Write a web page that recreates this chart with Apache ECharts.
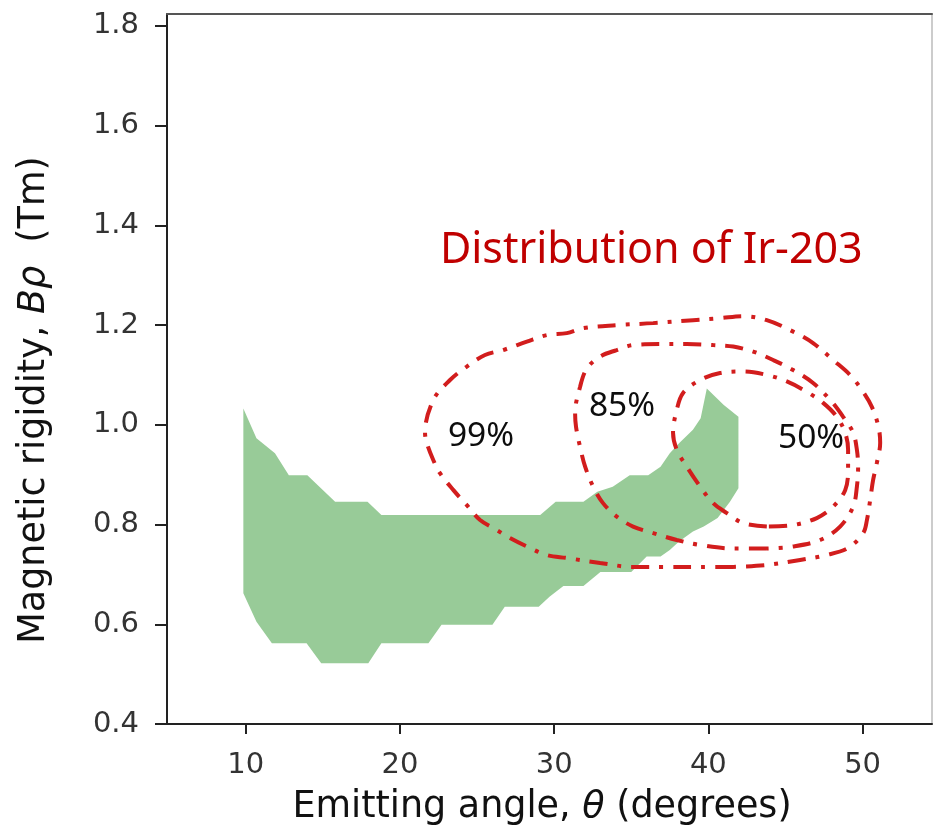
<!DOCTYPE html>
<html>
<head>
<meta charset="utf-8">
<script src="https://cdn.jsdelivr.net/npm/echarts@6/dist/echarts.min.js"></script>
<style>
  html, body { margin: 0; padding: 0; background: #ffffff; }
  #chart { width: 933px; height: 830px; }
</style>
</head>
<body>
<div id="chart"></div>
<script>
// Axis ticks
const xTicks = [10, 20, 30, 40, 50];
const yTicks = [0.4, 0.6, 0.8, 1.0, 1.2, 1.4, 1.6, 1.8];

// Acceptance region of the spectrometer (emitting angle in degrees, Bρ in Tm)
const acceptanceRegion = [
  [9.85, 1.033], [10.7, 0.973], [11.9, 0.943], [12.8, 0.899], [14.0, 0.899],
  [15.8, 0.846], [17.9, 0.846], [18.8, 0.819], [29.1, 0.819], [30.1, 0.846],
  [31.9, 0.846], [32.8, 0.866], [33.8, 0.876], [34.9, 0.899], [36.1, 0.899],
  [36.9, 0.916], [37.5, 0.943], [38.1, 0.963], [39.0, 0.990], [39.5, 1.013],
  [39.9, 1.073], [41.0, 1.040], [41.95, 1.016], [41.95, 0.873], [41.4, 0.846],
  [40.6, 0.813], [39.7, 0.796], [39.0, 0.786], [38.1, 0.766], [37.5, 0.749],
  [36.9, 0.736], [36.0, 0.736], [35.0, 0.705], [33.0, 0.705], [31.9, 0.677],
  [30.6, 0.677], [29.7, 0.655], [29.0, 0.635], [26.8, 0.635], [26.0, 0.599],
  [22.7, 0.599], [21.85, 0.562], [18.8, 0.562], [17.95, 0.522], [14.9, 0.522],
  [13.95, 0.562], [11.7, 0.562], [10.7, 0.605], [9.85, 0.662]
];

// Ir-203 distribution contours
const contour99 = [
  [21.63, 0.984], [22.17, 1.050], [23.25, 1.090], [24.34, 1.117], [25.52, 1.140],
  [26.69, 1.150], [28.23, 1.167], [29.52, 1.180], [30.82, 1.184], [31.88, 1.194],
  [34.06, 1.200], [36.42, 1.204], [39.01, 1.210], [40.76, 1.214], [42.25, 1.218],
  [43.79, 1.210], [45.50, 1.187], [46.79, 1.164], [48.09, 1.130], [49.19, 1.100],
  [49.95, 1.070], [50.60, 1.036], [51.03, 0.996], [51.14, 0.964], [50.92, 0.923],
  [50.68, 0.889], [50.49, 0.849], [50.28, 0.809], [50.04, 0.783], [49.06, 0.753],
  [47.68, 0.739], [45.95, 0.729], [43.79, 0.719], [41.61, 0.715], [39.47, 0.715],
  [37.31, 0.715], [35.12, 0.715], [32.98, 0.723], [30.82, 0.733], [29.52, 0.739],
  [28.23, 0.756], [27.14, 0.773], [26.28, 0.789], [25.20, 0.809], [24.34, 0.839],
  [23.47, 0.869], [22.60, 0.903], [22.17, 0.929], [21.74, 0.964]
];
const contour85 = [
  [31.36, 1.024], [31.68, 1.076], [32.12, 1.113], [32.98, 1.137], [34.06, 1.150],
  [35.12, 1.160], [36.87, 1.162], [38.60, 1.162], [40.31, 1.160], [41.61, 1.157],
  [42.90, 1.147], [44.20, 1.130], [45.50, 1.110], [46.79, 1.084], [47.90, 1.050],
  [48.74, 1.016], [49.39, 0.984], [49.63, 0.950], [49.71, 0.916], [49.63, 0.876],
  [49.39, 0.836], [48.54, 0.796], [47.25, 0.769], [45.50, 0.756], [43.79, 0.752],
  [41.61, 0.752], [39.47, 0.759], [37.95, 0.769], [36.42, 0.783], [35.12, 0.796],
  [34.06, 0.816], [33.17, 0.843], [32.53, 0.876], [32.01, 0.916], [31.68, 0.956],
  [31.42, 0.996]
];
const contour50 = [
  [37.71, 0.984], [37.95, 1.030], [38.36, 1.064], [39.47, 1.090], [40.76, 1.104],
  [42.25, 1.107], [43.79, 1.100], [45.09, 1.087], [46.39, 1.066], [47.44, 1.044],
  [48.33, 1.016], [48.87, 0.984], [49.06, 0.950], [49.06, 0.909], [48.87, 0.869],
  [48.09, 0.836], [47.03, 0.813], [45.50, 0.799], [43.79, 0.796], [42.25, 0.803],
  [41.20, 0.823], [40.31, 0.843], [39.47, 0.876], [38.60, 0.916], [37.95, 0.950]
];

// Contour level labels and annotation
const levelNames = ['99%', '85%', '50%'];
const levelLabelPos = [[25.26, 0.976], [34.4, 1.036], [46.66, 0.972]];
const annotationText = 'Distribution of Ir-203';
const annotationPos = [36.3, 1.349];

// Close a loop, starting it on its lowest (flattest) point so the smoothed
// path has no visible seam.
function closeLoop(pts) {
  let k = 0;
  pts.forEach((p, i) => { if (p[1] < pts[k][1]) k = i; });
  const ring = pts.slice(k).concat(pts.slice(0, k));
  return ring.concat([ring[0]]);
}
const contourColor = '#d21d1d';

function contourSeries(name, pts) {
  return {
    name: name,
    type: 'line',
    data: closeLoop(pts),
    showSymbol: false,
    symbol: 'none',
    smooth: 0.35,
    silent: true,
    z: 3,
    lineStyle: { color: contourColor, width: 4, type: [18, 10, 4, 10], cap: 'butt' }
  };
}

// Text-only scatter layer: invisible points carrying a centred label
function textSeries(name, items, labelStyle) {
  return {
    name: name,
    type: 'scatter',
    symbolSize: 0,
    silent: true,
    z: 5,
    itemStyle: { opacity: 1 },
    data: items,
    label: Object.assign({
      show: true, position: [0, 0], align: 'center', verticalAlign: 'middle',
      formatter: '{b}'
    }, labelStyle)
  };
}

const chart = echarts.init(document.getElementById('chart'), null, { renderer: 'canvas' });

const xMin = 4.9, xMax = 54.5, yMin = 0.4, yMax = 1.824;
const tickFont = { fontFamily: 'DejaVu Sans', fontSize: 29, color: '#333333' };
const titleFont = { fontFamily: 'DejaVu Sans', fontSize: 36.5, fill: '#111111' };

const option = {
  animation: false,
  backgroundColor: '#ffffff',
  grid: { left: 167, right: 1, top: 14, bottom: 106, show: false },
  xAxis: [
    {
      type: 'value', min: xMin, max: xMax, position: 'bottom',
      axisLine: { show: true, onZero: false, lineStyle: { color: '#222', width: 2 } },
      axisTick: { show: true, customValues: xTicks, length: 10, lineStyle: { color: '#222', width: 2 } },
      axisLabel: Object.assign({ customValues: xTicks, margin: 27 }, tickFont),
      splitLine: { show: false }
    },
    {
      type: 'value', min: xMin, max: xMax, position: 'top',
      axisLine: { show: true, onZero: false, lineStyle: { color: '#555', width: 2 } },
      axisTick: { show: false }, axisLabel: { show: false }, splitLine: { show: false }
    }
  ],
  yAxis: [
    {
      type: 'value', min: yMin, max: yMax, position: 'left',
      axisLine: { show: true, onZero: false, lineStyle: { color: '#222', width: 2 } },
      axisTick: { show: true, customValues: yTicks, length: 12, lineStyle: { color: '#222', width: 2 } },
      axisLabel: Object.assign({ customValues: yTicks, margin: 28, formatter: v => v.toFixed(1) }, tickFont),
      splitLine: { show: false }
    },
    {
      type: 'value', min: yMin, max: yMax, position: 'right',
      axisLine: { show: true, onZero: false, lineStyle: { color: '#bbbbbb', width: 1.5 } },
      axisTick: { show: false }, axisLabel: { show: false }, splitLine: { show: false }
    }
  ],
  graphic: [
    {
      type: 'text', x: 542, y: 808,
      style: Object.assign({
        text: 'Emitting angle, {i|θ} (degrees)', align: 'center', verticalAlign: 'middle',
        rich: { i: Object.assign({ fontStyle: 'italic' }, titleFont) }
      }, titleFont)
    },
    {
      type: 'text', x: 35, y: 400, rotation: Math.PI / 2,
      style: Object.assign({
        text: 'Magnetic rigidity, {i|Bρ}  (Tm)', align: 'center', verticalAlign: 'middle',
        rich: { i: Object.assign({ fontStyle: 'italic' }, titleFont) }
      }, titleFont)
    }
  ],
  series: [
    {
      name: 'Acceptance',
      type: 'custom',
      coordinateSystem: 'cartesian2d',
      data: acceptanceRegion,
      encode: { x: 0, y: 1 },
      silent: true,
      z: 1,
      renderItem: function (params, api) {
        if (params.dataIndex !== 0) return null;
        const pts = acceptanceRegion.map(p => api.coord(p));
        return { type: 'polygon', shape: { points: pts }, style: { fill: '#98cb98' } };
      }
    },
    contourSeries('99%', contour99),
    contourSeries('85%', contour85),
    contourSeries('50%', contour50),
    textSeries('Levels',
      levelLabelPos.map((p, i) => ({ name: levelNames[i], value: p })),
      { fontFamily: 'Noto Sans', fontSize: 33.5, color: '#0d0d0d' }),
    textSeries('Annotation',
      [{ name: annotationText, value: annotationPos }],
      { fontFamily: 'Noto Sans', fontSize: 43, color: '#c00000' })
  ]
};

chart.setOption(option);
</script>
</body>
</html>
